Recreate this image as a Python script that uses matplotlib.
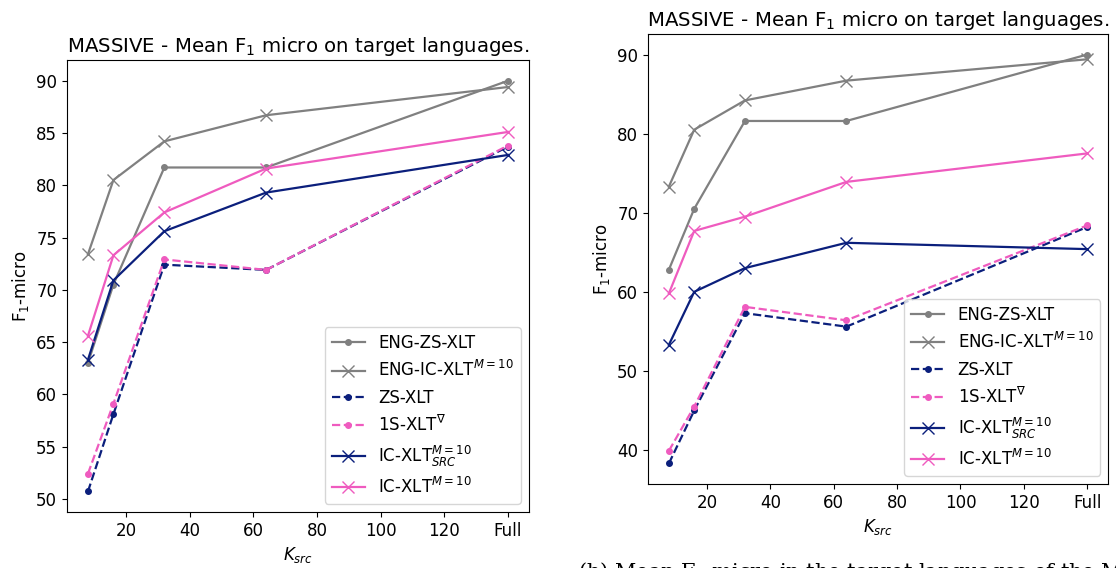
import numpy as np
import matplotlib
matplotlib.use("Agg")
import matplotlib.pyplot as plt

# x positions: k-shot sizes, "Full" drawn at 140
k_src = [8, 16, 32, 64, 140]
xticks = [20, 40, 60, 80, 100, 120, 140]
xtick_labels = ["20", "40", "60", "80", "100", "120", "Full"]

labels = ["ENG-ZS-XLT", "ENG-IC-XLT$^{M=10}$", "ZS-XLT", "1S-XLT$^{\\nabla}$",
          "IC-XLT$_{SRC}^{M=10}$", "IC-XLT$^{M=10}$"]

# left panel
left_eng_zs = [63.0, 70.5, 81.7, 81.7, 90.0]
left_eng_ic = [73.4, 80.5, 84.2, 86.7, 89.4]
left_zs = [50.7, 58.1, 72.4, 71.9, 83.7]
left_1s = [52.4, 59.1, 72.9, 71.9, 83.8]
left_ic_src = [63.3, 70.9, 75.6, 79.3, 82.9]
left_ic = [65.6, 73.3, 77.4, 81.6, 85.1]

# right panel
right_eng_zs = [62.8, 70.5, 81.6, 81.6, 90.0]
right_eng_ic = [73.3, 80.5, 84.2, 86.7, 89.4]
right_zs = [38.3, 45.0, 57.3, 55.6, 68.2]
right_1s = [39.9, 45.5, 58.1, 56.4, 68.4]
right_ic_src = [53.3, 60.0, 63.0, 66.2, 65.4]
right_ic = [59.8, 67.7, 69.5, 73.9, 77.5]

grey = "#808080"
navy = "#0b1f7c"
pink = "#ef5bbf"
styles = [(grey, "-", "."), (grey, "-", "x"), (navy, "--", "."),
          (pink, "--", "."), (navy, "-", "x"), (pink, "-", "x")]

plt.rcParams["font.size"] = 12

fig = plt.figure(figsize=(11.16, 5.68), dpi=100)
ax1 = fig.add_axes([0.060, 0.0986, 0.414, 0.7954])
ax2 = fig.add_axes([0.5806, 0.148, 0.4124, 0.792])


def draw(ax, series, yticks):
    for ys, lab, (c, ls, m) in zip(series, labels, styles):
        ax.plot(k_src, ys, color=c, linestyle=ls, marker=m, markersize=8,
                linewidth=1.6, label=lab)
    ax.set_xticks(xticks)
    ax.set_xticklabels(xtick_labels)
    ax.set_yticks(yticks)
    ax.set_title("MASSIVE - Mean F$_1$ micro on target languages.", fontsize=14.2)
    ax.set_ylabel("F$_1$-micro")
    ax.set_xlabel("$K_{src}$")
    ax.legend(loc="lower right", fontsize=12)


draw(ax1, [left_eng_zs, left_eng_ic, left_zs, left_1s, left_ic_src, left_ic],
     [50, 55, 60, 65, 70, 75, 80, 85, 90])
draw(ax2, [right_eng_zs, right_eng_ic, right_zs, right_1s, right_ic_src, right_ic],
     [40, 50, 60, 70, 80, 90])

# cut-off caption under the right panel (only its upper half shows)
fig.text(0.518, -0.028, "(b) Mean F$_1$ micro in the target languages of the MASSIVE dataset, and",
         family="DejaVu Serif", fontsize=15, va="bottom", ha="left")

fig.savefig("out.png", dpi=100)
